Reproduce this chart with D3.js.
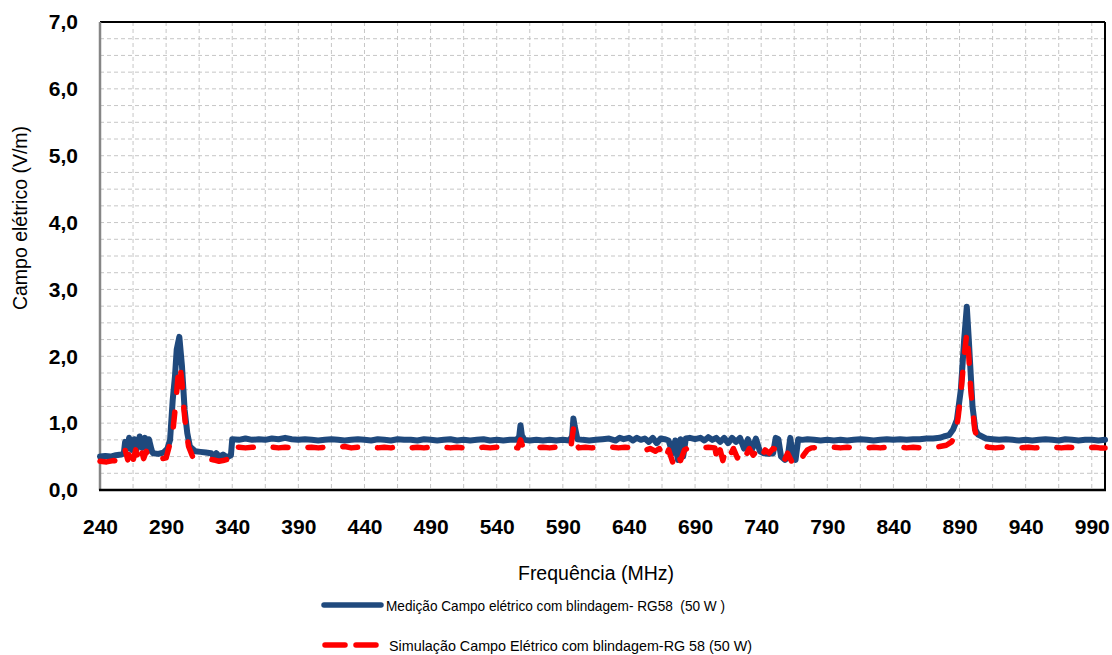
<!DOCTYPE html>
<html>
<head>
<meta charset="utf-8">
<script src="https://cdn.jsdelivr.net/npm/d3@7"></script>
<style>
  html, body { margin: 0; padding: 0; background: #fff; }
  svg { display: block; font-family: Arial, "Liberation Sans", sans-serif; }
  .leg { white-space: pre; }
</style>
</head>
<body>
<svg id="chart" width="1112" height="655"></svg>
<script>
// ---------- data ----------
const xTickValues = [240, 290, 340, 390, 440, 490, 540, 590, 640, 690, 740, 790, 840, 890, 940, 990];
const yTickValues = [0, 1, 2, 3, 4, 5, 6, 7];

const seriesNames = [
  "Medição Campo elétrico com blindagem- RG58  (50 W )",
  "Simulação Campo Elétrico com blindagem-RG 58 (50 W)"
];

// [frequency MHz, field V/m]
const measured = [
  [240,0.50],[244,0.51],[248,0.50],[252,0.52],[256,0.53],[258,0.55],[259,0.72],[261,0.62],[262,0.78],[264,0.60],
  [266,0.76],[268,0.62],[270,0.80],[272,0.63],[274,0.78],[276,0.58],[277,0.76],[279,0.60],[280,0.55],[284,0.54],
  [288,0.56],[291,0.62],[293,0.75],[295,1.35],[296.7,1.7],[298,2.1],[300,2.29],[302,1.85],[304,1.2],[306,0.85],
  [308,0.65],[312,0.58],[316,0.57],[320,0.56],[324,0.55],[326,0.50],[328,0.55],[330,0.50],[333,0.53],[336,0.49],
  [339,0.52],[340,0.76],[345,0.75],[350,0.77],[355,0.75],[360,0.76],[365,0.75],[370,0.77],[375,0.76],[380,0.78],
  [385,0.76],[390,0.75],[395,0.76],[400,0.75],[405,0.74],[410,0.75],[415,0.76],[420,0.75],[425,0.74],[430,0.75],
  [435,0.76],[440,0.75],[445,0.74],[450,0.76],[455,0.75],[460,0.74],[465,0.76],[470,0.75],[475,0.75],[480,0.74],
  [485,0.76],[490,0.75],[495,0.74],[500,0.75],[505,0.76],[510,0.74],[515,0.75],[520,0.74],[525,0.75],[530,0.76],
  [535,0.74],[540,0.75],[545,0.74],[550,0.75],[555,0.75],[557,0.80],[558,0.97],[559,0.82],[561,0.75],[565,0.74],
  [570,0.75],[575,0.74],[580,0.75],[585,0.74],[590,0.75],[595,0.74],[597,0.80],[598,1.07],[599,0.95],[601,0.76],
  [605,0.75],[610,0.74],[615,0.75],[620,0.76],[625,0.77],[630,0.74],[633,0.78],[636,0.76],[640,0.78],[643,0.74],
  [646,0.78],[649,0.75],[652,0.77],[655,0.72],[658,0.78],[661,0.70],[664,0.77],[667,0.76],[670,0.74],[673,0.55],
  [675,0.74],[677,0.45],[679,0.76],[681,0.50],[683,0.77],[686,0.78],[690,0.76],[694,0.78],[697,0.74],[700,0.79],
  [703,0.75],[706,0.78],[709,0.72],[712,0.78],[715,0.70],[718,0.78],[721,0.72],[724,0.78],[727,0.62],[730,0.76],
  [733,0.60],[736,0.77],[739,0.58],[742,0.55],[746,0.54],[749,0.55],[751,0.78],[753,0.76],[755,0.50],[758,0.45],
  [760,0.48],[762,0.78],[764,0.50],[766,0.45],[768,0.76],[771,0.75],[775,0.76],[780,0.75],[785,0.74],[790,0.75],
  [795,0.74],[800,0.75],[805,0.74],[810,0.75],[815,0.76],[820,0.75],[825,0.74],[830,0.75],[835,0.76],[840,0.75],
  [845,0.76],[850,0.75],[855,0.76],[860,0.76],[865,0.77],[870,0.77],[875,0.78],[878,0.80],[882,0.82],[885,0.90],
  [888,1.05],[891,1.5],[893.5,2.25],[895.5,2.74],[897,2.25],[899.8,1.25],[902,0.90],[904,0.83],[907,0.80],[910,0.77],
  [915,0.76],[920,0.75],[925,0.76],[930,0.75],[935,0.74],[940,0.75],[945,0.74],[950,0.75],[955,0.76],[960,0.75],
  [965,0.74],[970,0.76],[975,0.75],[980,0.74],[985,0.75],[990,0.75],[995,0.74],[1000,0.75]
];

const simulated = [
  [240,0.43],[245,0.42],[250,0.44],[255,0.43],[258,0.45],[259,0.60],[261,0.45],[263,0.62],[265,0.44],[267,0.60],
  [269,0.46],[271,0.62],[273,0.47],[275,0.58],[277,0.48],[280,0.47],[285,0.46],[290,0.48],[293,0.70],[295,0.85],
  [297.5,1.35],[299,1.7],[300.5,1.87],[302,1.6],[303.5,1.2],[305,0.9],[307,0.65],[310,0.50],[313,0.48],[320,0.47],
  [326,0.45],[330,0.43],[333,0.44],[337,0.46],[340,0.63],[345,0.64],[350,0.63],[355,0.64],[360,0.63],[365,0.65],
  [370,0.64],[375,0.63],[380,0.64],[385,0.63],[390,0.64],[395,0.63],[400,0.64],[405,0.63],[410,0.64],[415,0.63],
  [420,0.64],[425,0.65],[430,0.63],[435,0.64],[440,0.63],[445,0.64],[450,0.63],[455,0.64],[460,0.63],[465,0.65],
  [470,0.64],[475,0.63],[480,0.64],[485,0.63],[490,0.64],[495,0.63],[500,0.64],[505,0.63],[510,0.64],[515,0.63],
  [520,0.64],[525,0.63],[530,0.64],[535,0.63],[540,0.64],[545,0.63],[550,0.64],[556,0.63],[558,0.75],[560,0.63],
  [565,0.64],[570,0.63],[575,0.64],[580,0.63],[585,0.64],[590,0.63],[596,0.63],[598,0.92],[600,0.70],[602,0.63],
  [607,0.64],[612,0.63],[617,0.64],[622,0.63],[627,0.64],[632,0.63],[637,0.64],[642,0.63],[646,0.64],[650,0.63],
  [653,0.60],[656,0.62],[660,0.58],[663,0.62],[667,0.45],[670,0.60],[673,0.42],[676,0.58],[679,0.44],[682,0.60],
  [685,0.63],[690,0.64],[695,0.63],[700,0.64],[705,0.63],[707,0.42],[709,0.60],[711,0.44],[713,0.60],[716,0.50],
  [719,0.62],[722,0.48],[725,0.60],[728,0.50],[731,0.62],[734,0.52],[737,0.60],[740,0.48],[743,0.60],[746,0.55],
  [749,0.62],[752,0.60],[754,0.50],[757,0.42],[760,0.55],[763,0.43],[766,0.50],[769,0.42],[772,0.52],[775,0.60],
  [778,0.63],[785,0.64],[790,0.63],[795,0.64],[800,0.63],[805,0.64],[810,0.63],[815,0.64],[820,0.63],[825,0.64],
  [830,0.63],[835,0.64],[840,0.63],[845,0.64],[850,0.63],[855,0.64],[860,0.63],[865,0.64],[870,0.64],[875,0.65],
  [880,0.67],[884,0.72],[887,0.82],[889,1.1],[891,1.45],[893.5,2.0],[895.5,2.35],[897,2.0],[898.5,1.5],[900,1.2],
  [901.5,0.9],[904,0.72],[908,0.66],[912,0.64],[917,0.63],[922,0.64],[927,0.63],[932,0.64],[937,0.63],[942,0.64],
  [947,0.63],[952,0.64],[957,0.63],[962,0.64],[967,0.63],[972,0.64],[977,0.63],[982,0.64],[987,0.63],[992,0.64],
  [996,0.63],[1000,0.63]
];

// ---------- layout ----------
const svg = d3.select("#chart");
const plot = { left: 100, top: 22, right: 1105, bottom: 490 };
const x = d3.scaleLinear().domain([240, 1000]).range([plot.left, plot.right]);
const y = d3.scaleLinear().domain([0, 7]).range([plot.bottom, plot.top]);
const fmt = d3.formatLocale({ decimal: ",", thousands: ".", grouping: [3], currency: ["", ""] }).format(".1f");

// grid
const gridColor = "#c6c6c6";
const vGrid = d3.range(265, 1000, 25);
const hGrid = d3.range(0.25, 7, 0.25);
svg.append("g").selectAll("line").data(vGrid).join("line")
  .attr("x1", d => x(d)).attr("x2", d => x(d))
  .attr("y1", plot.top).attr("y2", plot.bottom)
  .attr("stroke", gridColor).attr("stroke-width", 1).attr("stroke-dasharray", "4,3");
svg.append("g").selectAll("line").data(hGrid).join("line")
  .attr("x1", plot.left).attr("x2", plot.right)
  .attr("y1", d => y(d)).attr("y2", d => y(d))
  .attr("stroke", gridColor).attr("stroke-width", 1).attr("stroke-dasharray", "4,3");

// frame
svg.append("line").attr("x1", plot.left).attr("x2", plot.right).attr("y1", plot.top).attr("y2", plot.top)
  .attr("stroke", "#000").attr("stroke-width", 2);
svg.append("line").attr("x1", plot.right).attr("x2", plot.right).attr("y1", plot.top).attr("y2", plot.bottom)
  .attr("stroke", "#000").attr("stroke-width", 2);
svg.append("line").attr("x1", plot.left).attr("x2", plot.left).attr("y1", plot.top).attr("y2", plot.bottom)
  .attr("stroke", "#868686").attr("stroke-width", 2.5);

// lines
const line = d3.line().x(d => x(d[0])).y(d => y(d[1]));
svg.append("path").datum(measured).attr("d", line)
  .attr("fill", "none").attr("stroke", "#1F497D").attr("stroke-width", 6)
  .attr("stroke-linejoin", "round").attr("stroke-linecap", "round");
svg.append("path").datum(simulated).attr("d", line)
  .attr("fill", "none").attr("stroke", "#FF0000").attr("stroke-width", 5.5)
  .attr("stroke-linejoin", "round").attr("stroke-linecap", "round")
  .attr("stroke-dasharray", "15,20");

svg.append("line").attr("x1", plot.left - 1).attr("x2", plot.right + 1).attr("y1", plot.bottom).attr("y2", plot.bottom)
  .attr("stroke", "#000").attr("stroke-width", 2.5);

// axes
const xAxis = svg.append("g").attr("transform", `translate(0,${plot.bottom})`)
  .call(d3.axisBottom(x).tickValues(xTickValues).tickSize(0).tickPadding(29).tickFormat(d3.format("d")));
xAxis.select(".domain").remove();
xAxis.selectAll("text").attr("font-size", 21).attr("font-weight", "bold").attr("fill", "#000")
  .attr("font-family", "Arial, 'Liberation Sans', sans-serif");

const yAxis = svg.append("g").attr("transform", `translate(${plot.left},0)`)
  .call(d3.axisLeft(y).tickValues(yTickValues).tickSize(0).tickPadding(22).tickFormat(fmt));
yAxis.select(".domain").remove();
yAxis.selectAll("text").attr("font-size", 21).attr("font-weight", "bold").attr("fill", "#000")
  .attr("font-family", "Arial, 'Liberation Sans', sans-serif");

// titles
svg.append("text").attr("x", 596).attr("y", 580).attr("text-anchor", "middle")
  .attr("font-size", 19.5).attr("fill", "#000").text("Frequência (MHz)");
svg.append("text").attr("transform", "translate(27,218) rotate(-90)").attr("text-anchor", "middle")
  .attr("font-size", 19.5).attr("fill", "#000").text("Campo elétrico (V/m)");

// legend
const lg = svg.append("g");
lg.append("line").attr("x1", 324).attr("x2", 381).attr("y1", 605).attr("y2", 605)
  .attr("stroke", "#1F497D").attr("stroke-width", 5.5).attr("stroke-linecap", "round");
lg.append("text").attr("class", "leg").attr("x", 386).attr("y", 611).attr("font-size", 14.5)
  .attr("textLength", 339).attr("lengthAdjust", "spacingAndGlyphs").attr("fill", "#000").text(seriesNames[0]);
lg.append("line").attr("x1", 325).attr("x2", 378).attr("y1", 645).attr("y2", 645)
  .attr("stroke", "#FF0000").attr("stroke-width", 5.5).attr("stroke-linecap", "round")
  .attr("stroke-dasharray", "20,11");
lg.append("text").attr("class", "leg").attr("x", 389).attr("y", 651).attr("font-size", 14.5)
  .attr("textLength", 363).attr("lengthAdjust", "spacingAndGlyphs").attr("fill", "#000").text(seriesNames[1]);
</script>
</body>
</html>
